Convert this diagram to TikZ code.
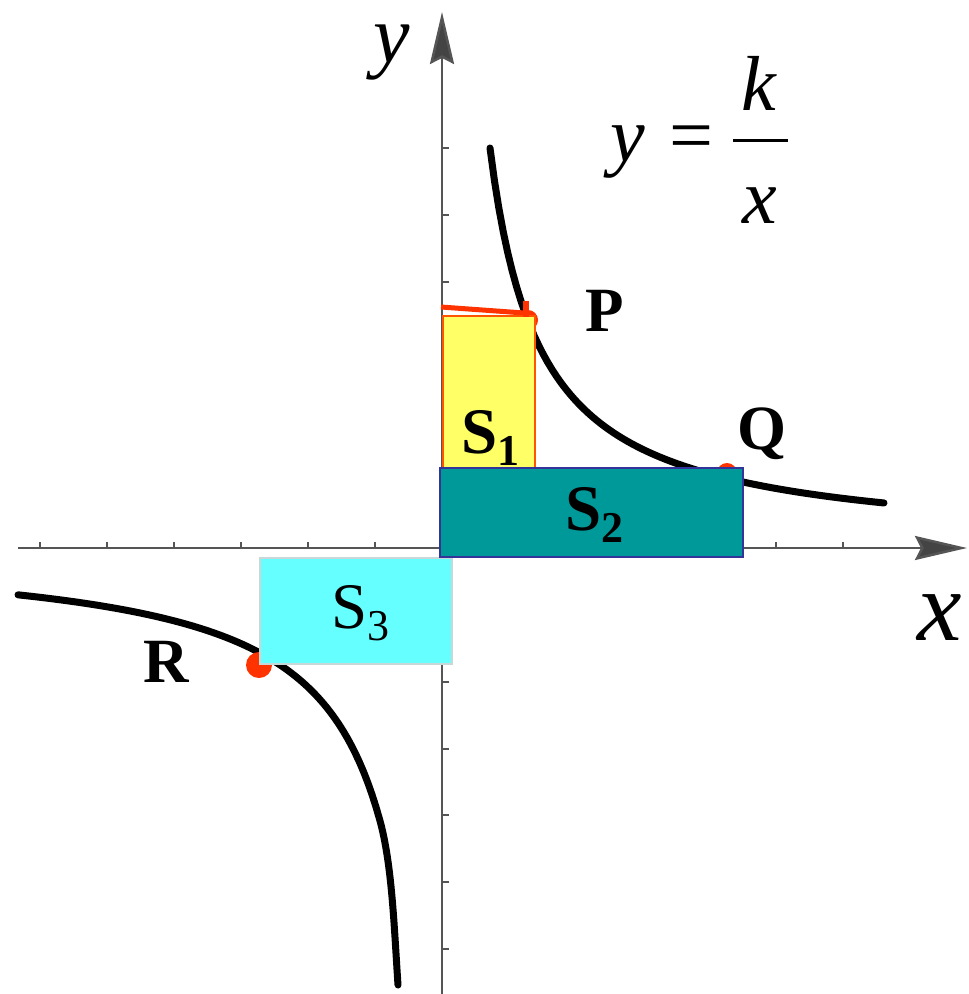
\documentclass[tikz,border=0pt]{standalone}
\usepackage{fontspec}
\setmainfont{Liberation Serif}
\usetikzlibrary{arrows.meta}
\definecolor{sonefill}{HTML}{FFFF66}
\definecolor{soneline}{HTML}{FF5500}
\definecolor{stwofill}{HTML}{009999}
\definecolor{stwoline}{HTML}{333399}
\definecolor{sthreefill}{HTML}{66FFFF}
\definecolor{sthreeline}{HTML}{C8D8D8}
\definecolor{dotred}{HTML}{FF3300}
\definecolor{axisgray}{HTML}{555555}
\tikzset{
  axisline/.style={draw=axisgray, line width=2.5pt},
  axistip/.style={-{Stealth[length=52pt,width=24pt,inset=6pt,fill=axisgray!80!black]}},
  tickline/.style={draw=axisgray, line width=2pt},
  curveline/.style={draw=black, line width=7pt, line cap=round},
  reddot/.style={fill=dotred},
  ptlabel/.style={inner sep=0pt, font=\fontsize{63}{70}\selectfont\bfseries},
  eqlabel/.style={inner sep=0pt, font=\fontsize{78}{86}\selectfont\itshape},
  sbold/.style={inner sep=0pt, anchor=base west, font=\fontsize{65}{72}\selectfont\bfseries},
  sreg/.style={inner sep=0pt, anchor=base west, font=\fontsize{65}{72}\selectfont},
}
\newcommand{\subbold}[1]{\raisebox{-12pt}{\fontsize{44}{48}\selectfont\bfseries #1}}
\newcommand{\subreg}[1]{\raisebox{-12pt}{\fontsize{44}{48}\selectfont #1}}
\begin{document}
\begin{tikzpicture}[x=1pt,y=-1pt]
\useasboundingbox (0,0) rectangle (969,994);
% axes
\coordinate (xl) at (18,548);
\coordinate (xr) at (967,548);
\coordinate (yb) at (442,994);
\coordinate (yt) at (442,12);
\draw[axisline, axistip] (xl) -- (xr);
\draw[axisline, axistip] (yb) -- (yt);
% ticks
\foreach \t in {40,107,174,241,308,375,509,576,643,709,776,843}
  \draw[tickline] (\t,548) -- (\t,542);
\foreach \t in {148,215,282,348,415,481,615,682,749,815,882,949}
  \draw[tickline] (442,\t) -- (449,\t);
% axis labels
\node[eqlabel, anchor=base, font=\fontsize{82}{88}\selectfont\itshape] (ylab) at (392,62) {y};
\node[eqlabel, anchor=base, font=\fontsize{100}{106}\selectfont\itshape] (xlab) at (940,640) {x};
% hyperbola branches
\draw[curveline] plot[domain=490:884, samples=90] (\x, {548-200/((\x-440)/100)});
\draw[curveline] plot[domain=18:380, samples=90] (\x, {548+204.6/((455-\x)/100)})
  .. controls (392,865) and (394,925) .. (398,985);
% points
\fill[reddot] (528,320) circle (10pt);
\fill[reddot] (727,473) circle (10pt);
\fill[reddot] (259,665) circle (13pt);
% rectangles
\filldraw[fill=sonefill, draw=soneline, line width=1.5pt] (443,316) rectangle (535,468);
\filldraw[fill=sthreefill, draw=sthreeline, line width=1.5pt] (260,558) rectangle (452,664);
\filldraw[fill=stwofill, draw=stwoline, line width=2pt] (440,468) rectangle (743,557);
% red marker at top of S1
\coordinate (ma) at (441,307);
\coordinate (mb) at (524,313);
\coordinate (tk1) at (526,301);
\coordinate (tk2) at (526,317);
\draw[dotred, line width=5pt] (ma) -- (mb);
\draw[dotred, line width=6pt] (tk1) -- (tk2);
% point labels
\node[ptlabel] (P) at (605,311) {P};
\node[ptlabel] (Q) at (762,434) {Q};
\node[ptlabel] (R) at (166,662) {R};
% area labels
\node[sbold] (S1) at (461,453) {S\subbold{1}};
\node[sbold] (S2) at (565,530) {S\subbold{2}};
\node[sreg] (S3) at (331,628) {S\subreg{3}};
% equation y = k/x
\node[eqlabel, anchor=base] (eqy) at (628,161) {y};
\node[inner sep=0pt, anchor=base, font=\fontsize{78}{86}\selectfont] (eqeq) at (691,161) {=};
\node[eqlabel, anchor=base] (eqk) at (759,110) {k};
\node[eqlabel, anchor=base] (eqx) at (760,223) {x};
\coordinate (fb1) at (733,140);
\coordinate (fb2) at (788,140);
\draw[line width=3pt] (fb1) -- (fb2);
\end{tikzpicture}
\end{document}
